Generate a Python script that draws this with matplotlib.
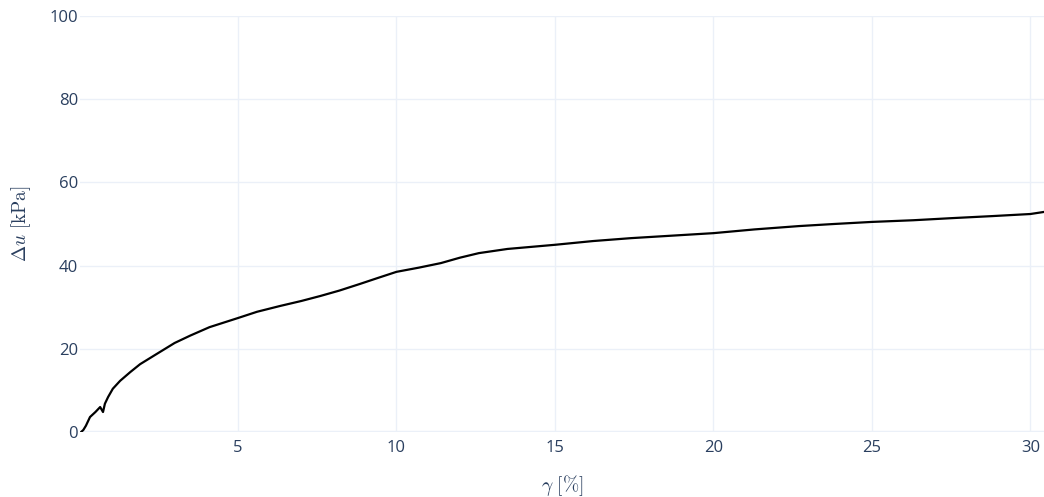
import matplotlib
matplotlib.use("Agg")
import matplotlib.pyplot as plt

# Data
gamma = [0.05, 0.12, 0.2, 0.33, 0.5, 0.65, 0.74, 0.8, 0.9, 1.05, 1.28, 1.6, 1.91, 2.4,
         3.0, 3.5, 4.1, 5.0, 5.6, 6.33, 7.0, 7.6, 8.2, 8.85, 9.4, 10.0, 10.7, 11.4,
         12.0, 12.6, 13.5, 15.0, 16.2, 17.4, 18.7, 20.0, 21.3, 22.7, 23.8, 25.0,
         26.3, 27.5, 28.8, 30.0, 30.43]
du = [0.0, 0.5, 1.5, 3.6, 4.8, 6.0, 4.8, 6.8, 8.4, 10.4, 12.3, 14.4, 16.3, 18.6,
      21.4, 23.2, 25.2, 27.4, 28.9, 30.3, 31.5, 32.7, 34.0, 35.6, 37.0, 38.5, 39.5, 40.6,
      41.9, 43.0, 44.0, 45.0, 45.9, 46.6, 47.2, 47.8, 48.7, 49.5, 50.0, 50.5,
      50.9, 51.4, 51.9, 52.4, 52.9]

xticks = [5, 10, 15, 20, 25, 30]
yticks = [0, 20, 40, 60, 80, 100]

plt.rcParams['font.family'] = ['Open Sans', 'DejaVu Sans']
plt.rcParams['mathtext.fontset'] = 'cm'
text_color = '#2a3f5f'
grid_color = '#ebf0f8'

fig = plt.figure(figsize=(10.44, 4.97), dpi=100)
ax = fig.add_axes([0.0762, 0.1308, 0.9238, 0.837])

ax.plot(gamma, du, color='black', linewidth=1.6, zorder=3)

ax.set_xlim(0, 30.43)
ax.set_ylim(0, 100)
ax.set_xticks(xticks)
ax.set_yticks(yticks)
ax.grid(True, color=grid_color, linewidth=1)
ax.axhline(0, color=grid_color, linewidth=2.5, zorder=1)
for s in ax.spines.values():
    s.set_visible(False)
ax.tick_params(axis='y', length=0, labelsize=12, labelcolor=text_color, pad=1)
ax.tick_params(axis='x', length=0, labelsize=12, labelcolor=text_color, pad=6)
ax.set_xlabel(r'$\gamma\ [\%]$', fontsize=14, color=text_color, labelpad=12)
ax.set_ylabel(r'$\Delta u\ [\mathrm{kPa}]$', fontsize=14, color=text_color, labelpad=12)
ax.set_axisbelow(True)

fig.savefig('out.png', dpi=100)
